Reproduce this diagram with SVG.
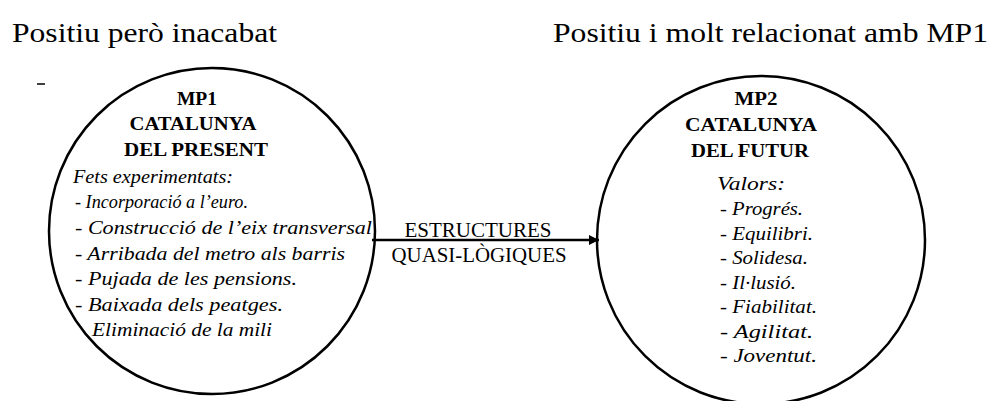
<svg xmlns="http://www.w3.org/2000/svg" width="990" height="401" viewBox="0 0 990 401">
  <style>
    text { font-family: 'Liberation Serif', 'Times New Roman', Tinos, 'DejaVu Serif', serif; fill: #000; }
    .title { font-size: 28px; }
    .head { font-size: 19px; font-weight: bold; text-anchor: middle; }
    .item { font-size: 19px; font-style: italic; }
    .label { font-size: 20px; text-anchor: middle; }
    .ring { fill: none; stroke: #000; stroke-width: 2.5; }
    .link { fill: none; stroke: #000; stroke-width: 2.5; }
  </style>
  <defs>
    <marker id="head" viewBox="0 0 10 10" refX="10" refY="5" markerWidth="4" markerHeight="4" orient="auto" markerUnits="strokeWidth">
      <path d="M0,0 L10,5 L0,10 Z" fill="#000"/>
    </marker>
  </defs>
  <rect width="990" height="401" fill="#fff"/>

  <!-- column captions -->
  <text class="title" font-family="Liberation Serif, serif" x="12" y="42" textLength="265" lengthAdjust="spacingAndGlyphs">Positiu però inacabat</text>
  <text class="title" font-family="Liberation Serif, serif" x="553" y="42" textLength="435" lengthAdjust="spacingAndGlyphs">Positiu i molt relacionat amb MP1</text>
  <line x1="37" y1="84" x2="45" y2="84" stroke="#000" stroke-width="1.5"/>

  <!-- connectors -->
  <g id="connectors">
    <line class="link" x1="372" y1="240" x2="599" y2="240" marker-end="url(#head)"/>
    <text class="label" x="478" y="237" textLength="147" lengthAdjust="spacingAndGlyphs">ESTRUCTURES</text>
    <text class="label" x="479" y="262" textLength="175" lengthAdjust="spacingAndGlyphs">QUASI-LÒGIQUES</text>
  </g>

  <!-- MP1: present -->
  <g id="mp1">
    <circle class="ring" cx="212" cy="231" r="163"/>
    <text class="head" x="197" y="105" textLength="40" lengthAdjust="spacingAndGlyphs">MP1</text>
    <text class="head" x="193" y="130" textLength="127" lengthAdjust="spacingAndGlyphs">CATALUNYA</text>
    <text class="head" x="196" y="156" textLength="144" lengthAdjust="spacingAndGlyphs">DEL PRESENT</text>
    <text class="item" x="73" y="183" textLength="160" lengthAdjust="spacingAndGlyphs">Fets experimentats:</text>
    <text class="item" x="75" y="208" textLength="173" lengthAdjust="spacingAndGlyphs">- Incorporació a l’euro.</text>
    <text class="item" x="75" y="234" textLength="297" lengthAdjust="spacingAndGlyphs">- Construcció de l’eix transversal</text>
    <text class="item" x="75" y="260" textLength="270" lengthAdjust="spacingAndGlyphs">- Arribada del metro als barris</text>
    <text class="item" x="75" y="285" textLength="222" lengthAdjust="spacingAndGlyphs">- Pujada de les pensions.</text>
    <text class="item" x="75" y="311" textLength="208" lengthAdjust="spacingAndGlyphs">- Baixada dels peatges.</text>
    <text class="item" x="92" y="336" textLength="180" lengthAdjust="spacingAndGlyphs">Eliminació de la mili</text>
  </g>

  <!-- MP2: future -->
  <g id="mp2">
    <circle class="ring" cx="761" cy="240" r="164"/>
    <text class="head" x="756" y="105" textLength="43" lengthAdjust="spacingAndGlyphs">MP2</text>
    <text class="head" x="751" y="131" textLength="132" lengthAdjust="spacingAndGlyphs">CATALUNYA</text>
    <text class="head" x="750" y="157" textLength="118" lengthAdjust="spacingAndGlyphs">DEL FUTUR</text>
    <text class="item" x="717" y="190" textLength="68" lengthAdjust="spacingAndGlyphs">Valors:</text>
    <text class="item" x="720" y="215" textLength="83" lengthAdjust="spacingAndGlyphs">- Progrés.</text>
    <text class="item" x="720" y="240" textLength="93" lengthAdjust="spacingAndGlyphs">- Equilibri.</text>
    <text class="item" x="720" y="264" textLength="88" lengthAdjust="spacingAndGlyphs">- Solidesa.</text>
    <text class="item" x="720" y="289" textLength="76" lengthAdjust="spacingAndGlyphs">- Il·lusió.</text>
    <text class="item" x="720" y="313" textLength="97" lengthAdjust="spacingAndGlyphs">- Fiabilitat.</text>
    <text class="item" x="720" y="338" textLength="93" lengthAdjust="spacingAndGlyphs">- Agilitat.</text>
    <text class="item" x="720" y="362" textLength="97" lengthAdjust="spacingAndGlyphs">- Joventut.</text>
  </g>
</svg>
